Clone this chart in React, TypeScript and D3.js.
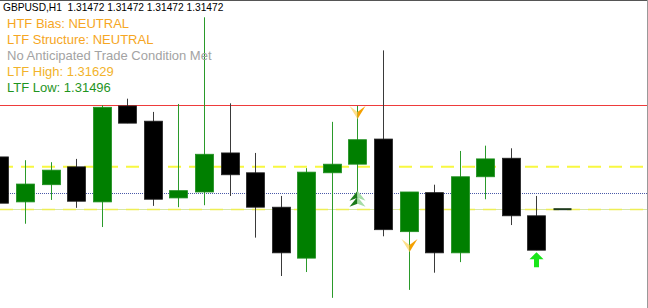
import React from "react";
import * as d3 from "d3";

const W = 648;
const H = 308;

// Candle data (GBPUSD H1)
const opens = [1.31551, 1.31483, 1.31509, 1.31536, 1.31483, 1.31628, 1.31605, 1.31489, 1.31498, 1.31557, 1.31527, 1.31475, 1.31398, 1.31527, 1.31540, 1.31578, 1.31438, 1.31497, 1.31406, 1.31521, 1.31549, 1.31462, 1.31472];
const highs = [1.31551, 1.31546, 1.31543, 1.31548, 1.31629, 1.31639, 1.31619, 1.31631, 1.31762, 1.31632, 1.31557, 1.31492, 1.31534, 1.31604, 1.31628, 1.31712, 1.31498, 1.31509, 1.31560, 1.31568, 1.31564, 1.31492, 1.31472];
const lows = [1.31481, 1.31450, 1.31486, 1.31474, 1.31445, 1.31602, 1.31477, 1.31475, 1.31478, 1.31492, 1.31429, 1.31371, 1.31377, 1.31338, 1.31498, 1.31431, 1.31350, 1.31376, 1.31392, 1.31487, 1.31448, 1.31410, 1.31472];
const closes = [1.31481, 1.31510, 1.31531, 1.31484, 1.31626, 1.31602, 1.31487, 1.31500, 1.31555, 1.31524, 1.31475, 1.31406, 1.31528, 1.31540, 1.31577, 1.31441, 1.31498, 1.31406, 1.31521, 1.31548, 1.31462, 1.31410, 1.31472];

// Horizontal levels
const ltfHigh = 1.31629;
const ltfLow = 1.31496;
const midLevel = 1.31536;
const bidLevel = 1.31472;

// Signal arrows: [candle index, price]
const downArrows = [[14, 1.31628], [16, 1.31427]];
const doubleUpArrows = [[14, 1.31500]];
const bigUpArrows = [[21, 1.31407]];

const titleText = "GBPUSD,H1\u00a0\u00a01.31472 1.31472 1.31472 1.31472";
const infoLines = [
  "HTF Bias: NEUTRAL",
  "LTF Structure: NEUTRAL",
  "No Anticipated Trade Condition Met",
  "LTF High: 1.31629",
  "LTF Low: 1.31496",
];
const infoColors = ["#f6a623", "#f6a623", "#a3a3a3", "#f2b32a", "#1f951f"];

export default function App() {
  const x = d3.scaleLinear().domain([0, 22]).range([-0.6, 562]);
  const y = d3.scaleLinear().domain([ltfHigh, ltfLow]).range([105.3, 193.3]);
  const bw = 18;
  const n = opens.length;

  const candles = d3.range(n).map((i) => {
    const o = opens[i], c = closes[i], h = highs[i], l = lows[i];
    const bull = c >= o;
    const cx = Math.round(x(i)) + 0.5;
    if (i === n - 1) {
      return (
        <line key={i} x1={cx - bw / 2} x2={cx + bw / 2} y1={y(c)} y2={y(c)} stroke="#1e3a1e" strokeWidth={2} />
      );
    }
    const top = y(Math.max(o, c));
    const bot = y(Math.min(o, c));
    return (
      <g key={i}>
        <line x1={cx} x2={cx} y1={y(h)} y2={y(l)} stroke={bull ? "#2a9a2a" : "#3a3a3a"} strokeWidth={1} />
        <rect
          x={cx - bw / 2}
          y={top}
          width={bw}
          height={Math.max(1, bot - top)}
          fill={bull ? "#007f00" : "#000000"}
          stroke={bull ? "#1f8f1f" : "#222"}
          strokeWidth={0.8}
        />
      </g>
    );
  });

  const downArrow = (cx: number, top: number, key: string) => (
    <g key={key}>
      <polygon points={`${cx - 8},${top} ${cx},${top + 6} ${cx},${top + 13}`} fill="#ffe08a" />
      <polygon points={`${cx},${top + 6} ${cx + 8},${top} ${cx},${top + 13}`} fill="#f5a000" />
    </g>
  );

  const upHead = (cx: number, t: number) => (
    <>
      <polygon points={`${cx},${t} ${cx - 8},${t + 10} ${cx},${t + 7}`} fill="#1a7a1a" />
      <polygon points={`${cx},${t} ${cx + 8},${t + 10} ${cx},${t + 7}`} fill="#a6dca6" />
    </>
  );

  const ly = (p: number) => Math.round(y(p)) + 0.5;

  return (
    <div style={{ position: "fixed", left: 0, top: 0, width: W, height: H, background: "#fff" }}>
      <svg width={W} height={H} style={{ display: "block", fontFamily: "'Liberation Sans', Arial, sans-serif" }}>
        <rect x={0} y={0} width={W} height={H} fill="#ffffff" />
        {/* levels */}
        <line x1={0} x2={647} y1={ly(ltfHigh)} y2={ly(ltfHigh)} stroke="#ee3b3b" strokeWidth={1} shapeRendering="crispEdges" />
        <line x1={0} x2={647} y1={ly(ltfLow)} y2={ly(ltfLow)} stroke="#4a5aa8" strokeWidth={1} strokeDasharray="1,1" shapeRendering="crispEdges" />
        <line x1={0} x2={647} y1={y(midLevel)} y2={y(midLevel)} stroke="#f8f840" strokeWidth={2} strokeDasharray="13,8" />
        <line x1={0} x2={647} y1={ly(bidLevel)} y2={ly(bidLevel)} stroke="#d6e6a6" strokeWidth={1.2} />
        <line x1={0} x2={647} y1={ly(bidLevel)} y2={ly(bidLevel)} stroke="#eeee55" strokeWidth={1.5} strokeDasharray="13,8" />
        {candles}
        {downArrows.map(([i, p], k) => downArrow(Math.round(x(i)) + 0.5, y(p), "d" + k))}
        {doubleUpArrows.map(([i, p], k) => {
          const cx = Math.round(x(i)) + 0.5;
          const t = y(p);
          return (
            <g key={"u" + k}>
              {upHead(cx, t)}
              {upHead(cx, t + 6)}
            </g>
          );
        })}
        {bigUpArrows.map(([i, p], k) => {
          const cx = Math.round(x(i)) + 0.5;
          const t = y(p);
          return (
            <polygon
              key={"b" + k}
              points={`${cx},${t} ${cx + 7},${t + 7} ${cx + 2.5},${t + 7} ${cx + 2.5},${t + 15} ${cx - 2.5},${t + 15} ${cx - 2.5},${t + 7} ${cx - 7},${t + 7}`}
              fill="#19e619"
            />
          );
        })}
        {/* frame */}
        <line x1={0} x2={W} y1={0.5} y2={0.5} stroke="#555" strokeWidth={1} />
        <line x1={647.5} x2={647.5} y1={0} y2={H} stroke="#999" strokeWidth={1} />
        <text x={3} y={11} fontSize={10.2} fill="#000">
          {titleText}
        </text>
        {infoLines.map((t, i) => (
          <text key={i} x={7} y={28 + i * 16} fontSize={13} fill={infoColors[i]}>
            {t}
          </text>
        ))}
      </svg>
    </div>
  );
}
